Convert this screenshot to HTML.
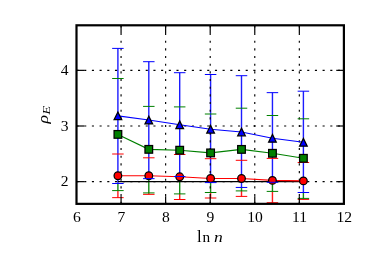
<!DOCTYPE html>
<html><head><meta charset="utf-8"><title>chart</title>
<style>html,body{margin:0;padding:0;background:#fff;}body{width:382px;height:255px;overflow:hidden;font-family:"Liberation Serif",serif;}svg{display:block;}</style>
</head><body>
<svg width="382" height="255" viewBox="0 0 382 255">
<rect width="382" height="255" fill="#fff"/>
<filter id="gs" x="0" y="0" width="382" height="255" filterUnits="userSpaceOnUse" color-interpolation-filters="sRGB"><feColorMatrix type="saturate" values="0"/></filter>
<clipPath id="c"><rect x="76.5" y="25.3" width="267.4" height="178.54999999999998"/></clipPath>
<g clip-path="url(#c)">
<line x1="117.9" y1="190.6" x2="117.9" y2="197.65" stroke="#ff1c1c" stroke-width="1.4"/>
<line x1="117.9" y1="183.5" x2="117.9" y2="190.6" stroke="#168a16" stroke-width="1.4"/>
<line x1="117.9" y1="48.4" x2="117.9" y2="183.5" stroke="#1c1cff" stroke-width="1.4"/>
<line x1="148.8" y1="192.9" x2="148.8" y2="194.35" stroke="#ff1c1c" stroke-width="1.4"/>
<line x1="148.8" y1="178.65" x2="148.8" y2="192.9" stroke="#168a16" stroke-width="1.4"/>
<line x1="148.8" y1="61.7" x2="148.8" y2="178.65" stroke="#1c1cff" stroke-width="1.4"/>
<line x1="179.7" y1="193.9" x2="179.7" y2="199.5" stroke="#ff1c1c" stroke-width="1.4"/>
<line x1="179.7" y1="176.5" x2="179.7" y2="193.9" stroke="#168a16" stroke-width="1.4"/>
<line x1="179.7" y1="72.7" x2="179.7" y2="176.5" stroke="#1c1cff" stroke-width="1.4"/>
<line x1="210.6" y1="192.5" x2="210.6" y2="198.0" stroke="#ff1c1c" stroke-width="1.4"/>
<line x1="210.6" y1="182.6" x2="210.6" y2="192.5" stroke="#168a16" stroke-width="1.4"/>
<line x1="210.6" y1="74.5" x2="210.6" y2="182.6" stroke="#1c1cff" stroke-width="1.4"/>
<line x1="241.5" y1="190.9" x2="241.5" y2="196.4" stroke="#ff1c1c" stroke-width="1.4"/>
<line x1="241.5" y1="187.45" x2="241.5" y2="190.9" stroke="#168a16" stroke-width="1.4"/>
<line x1="241.5" y1="75.7" x2="241.5" y2="187.45" stroke="#1c1cff" stroke-width="1.4"/>
<line x1="272.45" y1="191.4" x2="272.45" y2="202.7" stroke="#ff1c1c" stroke-width="1.4"/>
<line x1="272.45" y1="182.3" x2="272.45" y2="191.4" stroke="#168a16" stroke-width="1.4"/>
<line x1="272.45" y1="92.65" x2="272.45" y2="182.3" stroke="#1c1cff" stroke-width="1.4"/>
<line x1="303.4" y1="198.4" x2="303.4" y2="199.4" stroke="#ff1c1c" stroke-width="1.4"/>
<line x1="303.4" y1="192.5" x2="303.4" y2="198.4" stroke="#168a16" stroke-width="1.4"/>
<line x1="303.4" y1="91.2" x2="303.4" y2="192.5" stroke="#1c1cff" stroke-width="1.4"/>
</g>
<g stroke="#000" stroke-width="1.15" stroke-dasharray="2.1 5.57">
<line x1="121.07" y1="25.3" x2="121.07" y2="203.85"/>
<line x1="165.63" y1="25.3" x2="165.63" y2="203.85"/>
<line x1="210.20" y1="25.3" x2="210.20" y2="203.85"/>
<line x1="254.77" y1="25.3" x2="254.77" y2="203.85"/>
<line x1="299.33" y1="25.3" x2="299.33" y2="203.85"/>
<line x1="76.5" y1="70.35" x2="343.9" y2="70.35" stroke-dasharray="2.1 5.59"/>
<line x1="76.5" y1="126.0" x2="343.9" y2="126.0" stroke-dasharray="2.1 5.59"/>
<line x1="76.5" y1="181.65" x2="343.9" y2="181.65" stroke-dasharray="2.1 5.59"/>
</g>
<g clip-path="url(#c)">
<line x1="117.9" y1="181.65" x2="303.4" y2="181.65" stroke="#000" stroke-width="1.15"/>
<polyline points="117.9,175.75 148.8,175.75 179.7,176.8 210.6,178.5 241.5,178.5 272.45,180.4 303.4,180.9" fill="none" stroke="#ff0000" stroke-width="1.15"/>
<circle cx="117.9" cy="175.75" r="3.825" fill="#ff0000" stroke="#000" stroke-width="1.25"/>
<circle cx="148.8" cy="175.75" r="3.825" fill="#ff0000" stroke="#000" stroke-width="1.25"/>
<circle cx="179.7" cy="176.8" r="3.825" fill="#ff0000" stroke="#000" stroke-width="1.25"/>
<circle cx="210.6" cy="178.5" r="3.825" fill="#ff0000" stroke="#000" stroke-width="1.25"/>
<circle cx="241.5" cy="178.5" r="3.825" fill="#ff0000" stroke="#000" stroke-width="1.25"/>
<circle cx="272.45" cy="180.4" r="3.825" fill="#ff0000" stroke="#000" stroke-width="1.25"/>
<circle cx="303.4" cy="180.9" r="3.825" fill="#ff0000" stroke="#000" stroke-width="1.25"/>
<line x1="112.15" y1="154.0" x2="123.65" y2="154.0" stroke="#ff0000" stroke-width="1.0"/>
<line x1="112.15" y1="197.65" x2="123.65" y2="197.65" stroke="#ff0000" stroke-width="1.0"/>
<line x1="143.05" y1="157.8" x2="154.55" y2="157.8" stroke="#ff0000" stroke-width="1.0"/>
<line x1="143.05" y1="194.35" x2="154.55" y2="194.35" stroke="#ff0000" stroke-width="1.0"/>
<line x1="173.95" y1="154.5" x2="185.45" y2="154.5" stroke="#ff0000" stroke-width="1.0"/>
<line x1="173.95" y1="199.5" x2="185.45" y2="199.5" stroke="#ff0000" stroke-width="1.0"/>
<line x1="204.85" y1="158.7" x2="216.35" y2="158.7" stroke="#ff0000" stroke-width="1.0"/>
<line x1="204.85" y1="198.0" x2="216.35" y2="198.0" stroke="#ff0000" stroke-width="1.0"/>
<line x1="235.75" y1="160.3" x2="247.25" y2="160.3" stroke="#ff0000" stroke-width="1.0"/>
<line x1="235.75" y1="196.4" x2="247.25" y2="196.4" stroke="#ff0000" stroke-width="1.0"/>
<line x1="266.7" y1="158.4" x2="278.2" y2="158.4" stroke="#ff0000" stroke-width="1.0"/>
<line x1="266.7" y1="202.7" x2="278.2" y2="202.7" stroke="#ff0000" stroke-width="1.0"/>
<line x1="297.65" y1="162.5" x2="309.15" y2="162.5" stroke="#ff0000" stroke-width="1.0"/>
<line x1="297.65" y1="199.4" x2="309.15" y2="199.4" stroke="#ff0000" stroke-width="1.0"/>
<polyline points="117.9,134.4 148.8,149.35 179.7,150.2 210.6,152.9 241.5,149.4 272.45,153.3 303.4,158.3" fill="none" stroke="#008000" stroke-width="1.15"/>
<rect x="114.075" y="130.57500000000002" width="7.65" height="7.65" fill="#008000" stroke="#000" stroke-width="1.25"/>
<rect x="144.97500000000002" y="145.525" width="7.65" height="7.65" fill="#008000" stroke="#000" stroke-width="1.25"/>
<rect x="175.875" y="146.375" width="7.65" height="7.65" fill="#008000" stroke="#000" stroke-width="1.25"/>
<rect x="206.775" y="149.07500000000002" width="7.65" height="7.65" fill="#008000" stroke="#000" stroke-width="1.25"/>
<rect x="237.675" y="145.57500000000002" width="7.65" height="7.65" fill="#008000" stroke="#000" stroke-width="1.25"/>
<rect x="268.625" y="149.47500000000002" width="7.65" height="7.65" fill="#008000" stroke="#000" stroke-width="1.25"/>
<rect x="299.575" y="154.47500000000002" width="7.65" height="7.65" fill="#008000" stroke="#000" stroke-width="1.25"/>
<line x1="112.15" y1="78.5" x2="123.65" y2="78.5" stroke="#008000" stroke-width="1.0"/>
<line x1="112.15" y1="190.6" x2="123.65" y2="190.6" stroke="#008000" stroke-width="1.0"/>
<line x1="143.05" y1="106.4" x2="154.55" y2="106.4" stroke="#008000" stroke-width="1.0"/>
<line x1="143.05" y1="192.9" x2="154.55" y2="192.9" stroke="#008000" stroke-width="1.0"/>
<line x1="173.95" y1="106.9" x2="185.45" y2="106.9" stroke="#008000" stroke-width="1.0"/>
<line x1="173.95" y1="193.9" x2="185.45" y2="193.9" stroke="#008000" stroke-width="1.0"/>
<line x1="204.85" y1="114.0" x2="216.35" y2="114.0" stroke="#008000" stroke-width="1.0"/>
<line x1="204.85" y1="192.5" x2="216.35" y2="192.5" stroke="#008000" stroke-width="1.0"/>
<line x1="235.75" y1="108.2" x2="247.25" y2="108.2" stroke="#008000" stroke-width="1.0"/>
<line x1="235.75" y1="190.9" x2="247.25" y2="190.9" stroke="#008000" stroke-width="1.0"/>
<line x1="266.7" y1="115.5" x2="278.2" y2="115.5" stroke="#008000" stroke-width="1.0"/>
<line x1="266.7" y1="191.4" x2="278.2" y2="191.4" stroke="#008000" stroke-width="1.0"/>
<line x1="297.65" y1="118.8" x2="309.15" y2="118.8" stroke="#008000" stroke-width="1.0"/>
<line x1="297.65" y1="198.4" x2="309.15" y2="198.4" stroke="#008000" stroke-width="1.0"/>
<polyline points="117.9,115.85 148.8,120.05 179.7,124.8 210.6,129.2 241.5,132.0 272.45,138.3 303.4,142.3" fill="none" stroke="#0000ff" stroke-width="1.15"/>
<path d="M117.9,112.02499999999999 L114.075,119.675 L121.72500000000001,119.675 Z" fill="#0000ff" stroke="#000" stroke-width="1.25"/>
<path d="M148.8,116.225 L144.97500000000002,123.875 L152.625,123.875 Z" fill="#0000ff" stroke="#000" stroke-width="1.25"/>
<path d="M179.7,120.975 L175.875,128.625 L183.52499999999998,128.625 Z" fill="#0000ff" stroke="#000" stroke-width="1.25"/>
<path d="M210.6,125.37499999999999 L206.775,133.02499999999998 L214.42499999999998,133.02499999999998 Z" fill="#0000ff" stroke="#000" stroke-width="1.25"/>
<path d="M241.5,128.175 L237.675,135.825 L245.325,135.825 Z" fill="#0000ff" stroke="#000" stroke-width="1.25"/>
<path d="M272.45,134.47500000000002 L268.625,142.125 L276.275,142.125 Z" fill="#0000ff" stroke="#000" stroke-width="1.25"/>
<path d="M303.4,138.47500000000002 L299.575,146.125 L307.22499999999997,146.125 Z" fill="#0000ff" stroke="#000" stroke-width="1.25"/>
<line x1="112.15" y1="48.4" x2="123.65" y2="48.4" stroke="#0000ff" stroke-width="1.0"/>
<line x1="112.15" y1="183.5" x2="123.65" y2="183.5" stroke="#0000ff" stroke-width="1.0"/>
<line x1="143.05" y1="61.7" x2="154.55" y2="61.7" stroke="#0000ff" stroke-width="1.0"/>
<line x1="143.05" y1="178.65" x2="154.55" y2="178.65" stroke="#0000ff" stroke-width="1.0"/>
<line x1="173.95" y1="72.7" x2="185.45" y2="72.7" stroke="#0000ff" stroke-width="1.0"/>
<line x1="173.95" y1="176.5" x2="185.45" y2="176.5" stroke="#0000ff" stroke-width="1.0"/>
<line x1="204.85" y1="74.5" x2="216.35" y2="74.5" stroke="#0000ff" stroke-width="1.0"/>
<line x1="204.85" y1="182.6" x2="216.35" y2="182.6" stroke="#0000ff" stroke-width="1.0"/>
<line x1="235.75" y1="75.7" x2="247.25" y2="75.7" stroke="#0000ff" stroke-width="1.0"/>
<line x1="235.75" y1="187.45" x2="247.25" y2="187.45" stroke="#0000ff" stroke-width="1.0"/>
<line x1="266.7" y1="92.65" x2="278.2" y2="92.65" stroke="#0000ff" stroke-width="1.0"/>
<line x1="266.7" y1="182.3" x2="278.2" y2="182.3" stroke="#0000ff" stroke-width="1.0"/>
<line x1="297.65" y1="91.2" x2="309.15" y2="91.2" stroke="#0000ff" stroke-width="1.0"/>
<line x1="297.65" y1="192.5" x2="309.15" y2="192.5" stroke="#0000ff" stroke-width="1.0"/>
</g>
<g stroke="#000" stroke-width="1.2">
<line x1="121.07" y1="203.85" x2="121.07" y2="196.2"/>
<line x1="121.07" y1="25.3" x2="121.07" y2="32.95"/>
<line x1="165.63" y1="203.85" x2="165.63" y2="196.2"/>
<line x1="165.63" y1="25.3" x2="165.63" y2="32.95"/>
<line x1="210.20" y1="203.85" x2="210.20" y2="196.2"/>
<line x1="210.20" y1="25.3" x2="210.20" y2="32.95"/>
<line x1="254.77" y1="203.85" x2="254.77" y2="196.2"/>
<line x1="254.77" y1="25.3" x2="254.77" y2="32.95"/>
<line x1="299.33" y1="203.85" x2="299.33" y2="196.2"/>
<line x1="299.33" y1="25.3" x2="299.33" y2="32.95"/>
<line x1="76.5" y1="70.35" x2="84.15" y2="70.35"/>
<line x1="343.9" y1="70.35" x2="336.25" y2="70.35"/>
<line x1="76.5" y1="126.0" x2="84.15" y2="126.0"/>
<line x1="343.9" y1="126.0" x2="336.25" y2="126.0"/>
<line x1="76.5" y1="181.65" x2="84.15" y2="181.65"/>
<line x1="343.9" y1="181.65" x2="336.25" y2="181.65"/>
</g>
<rect x="76.5" y="25.3" width="267.4" height="178.54999999999998" fill="none" stroke="#000" stroke-width="2.2"/>
<g font-family="'Liberation Serif', serif" font-size="15.6px" fill="#000" filter="url(#gs)">
<text x="76.80" y="221.7" text-anchor="middle">6</text>
<text x="121.37" y="221.7" text-anchor="middle">7</text>
<text x="165.93" y="221.7" text-anchor="middle">8</text>
<text x="210.50" y="221.7" text-anchor="middle">9</text>
<text x="255.07" y="221.7" text-anchor="middle">10</text>
<text x="299.63" y="221.7" text-anchor="middle">11</text>
<text x="344.20" y="221.7" text-anchor="middle">12</text>
<text x="68.5" y="74.9" text-anchor="end">4</text>
<text x="68.5" y="130.7" text-anchor="end">3</text>
<text x="68.5" y="186.15" text-anchor="end">2</text>
<text x="197.1" y="242.1" font-size="16.8px">l</text>
<text x="202.4" y="242.1" font-size="15.3px">n</text>
<text transform="translate(213.9,242.1) scale(1.15,1)" font-size="15.3px" font-style="italic">n</text>
<g transform="translate(47.9,123.6) rotate(-90)"><text transform="scale(1.2,1)" x="0" y="0" font-size="14.7px" font-style="italic">ρ</text><text transform="translate(8.9,1.8) scale(1.3,1)" x="0" y="0" font-size="11.3px" font-style="italic">E</text></g>
</g>
</svg>
</body></html>
